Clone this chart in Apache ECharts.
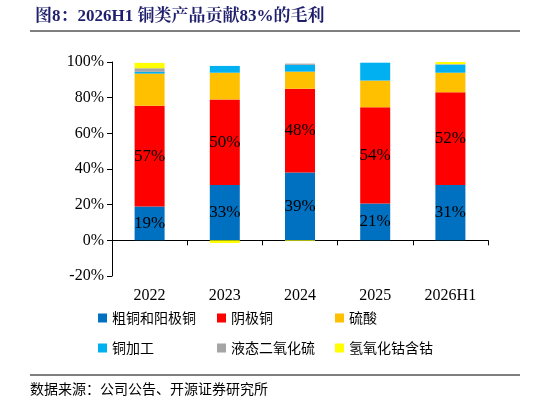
<!DOCTYPE html>
<html><head><meta charset="utf-8">
<script src="https://cdn.jsdelivr.net/npm/echarts@6/dist/echarts.min.js"></script>
<style>html,body{margin:0;padding:0;background:#fff}#c{width:546px;height:406px}</style>
</head><body><div id="c"></div>
<script>
const categories = ['2022','2023','2024','2025','2026H1'];
const seriesNames = ['粗铜和阳极铜','阴极铜','硫酸','铜加工','液态二氧化硫','氢氧化钴含钴'];
const colors = ['#0070C0','#FF0000','#FFC000','#00B0F0','#A5A5A5','#FFFF00'];
const crudeCopper = [19, 31, 38, 20.6, 31];
const cathodeCopper = [56.5, 48, 47, 54, 52];
const sulfuricAcid = [18, 15, 9.6, 15, 11];
const copperProc = [1, 3.8, 3.8, 10, 4.5];
const liquidSO2 = [2, 0, 0.7, 0, 0.3];
const cobalt = [3, -1.5, -0.4, 0, 1.5];
const labelsCrude = ['19%','33%','39%','21%','31%'];
const labelsCathode = ['57%','50%','48%','54%','52%'];
const yTicks = ['-20%','0%','20%','40%','60%','80%','100%'];
const allData = [crudeCopper, cathodeCopper, sulfuricAcid, copperProc, liquidSO2, cobalt];
const labelArr = [labelsCrude, labelsCathode];
const serif = '"Times New Roman","Liberation Serif","Noto Serif CJK SC","Noto Sans CJK SC",serif';
const series = seriesNames.map((n,i)=>({
  name:n, type:'bar', stack:'a', barWidth:30, data:allData[i],
  itemStyle:{color:colors[i]},
  label: i<2 ? {show:true, position:'inside', fontFamily:serif, fontSize:17, color:'#000',
    formatter:p=>labelArr[i][p.dataIndex]} : {show:false}
}));
const legPos = [[93,306],[212,306],[330,306],[93,336],[212,336],[330,336]];
const legends = seriesNames.map((n,i)=>({data:[n], left:legPos[i][0], top:legPos[i][1],
  itemWidth:9, itemHeight:9, icon:'rect', itemGap:4,
  textStyle:{fontSize:14, color:'#000', fontFamily:'"Noto Sans CJK SC",sans-serif'}}));
const chart = echarts.init(document.getElementById('c'));
chart.setOption({
  animation:false,
  title:{text:'图8：2026H1 铜类产品贡献83%的毛利', left:30, top:3,
    textStyle:{fontSize:17, fontWeight:'bold', color:'#1F1F6E', fontFamily:serif}},
  legend:legends,
  graphic:[
    {type:'line', shape:{x1:30,y1:31,x2:520,y2:31}, style:{stroke:'#000',lineWidth:1}},
    {type:'line', shape:{x1:30,y1:375,x2:520,y2:375}, style:{stroke:'#000',lineWidth:1}},
    {type:'text', left:30, top:382, style:{text:'数据来源：公司公告、开源证券研究所', fontSize:14, fill:'#000', fontFamily:'"Noto Sans CJK SC",sans-serif'}}
  ],
  grid:{left:112, right:58, top:62, bottom:130},
  xAxis:{type:'category', data:categories,
    axisLine:{onZero:true, lineStyle:{color:'#000'}}, axisTick:{show:true, lineStyle:{color:'#000'}},
    axisLabel:{fontFamily:serif, fontSize:16, color:'#000', margin:12}},
  yAxis:{type:'value', min:-20, max:100, interval:20,
    axisLine:{show:true, lineStyle:{color:'#000'}}, axisTick:{show:true, lineStyle:{color:'#000'}},
    splitLine:{show:false},
    axisLabel:{fontFamily:serif, fontSize:16, color:'#000', formatter:v=>yTicks[(v+20)/20]}},
  series:series
});
</script></body></html>
